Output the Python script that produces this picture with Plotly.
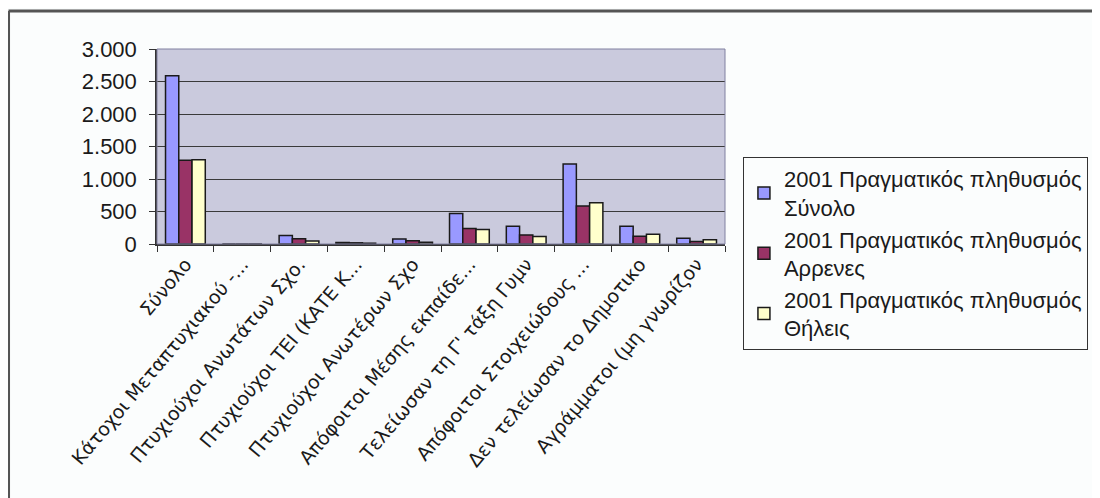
import plotly.graph_objects as go

categories = [
    "Σύνολο",
    "Κάτοχοι Μεταπτυχιακού -...",
    "Πτυχιούχοι Ανωτάτων Σχο.",
    "Πτυχιούχοι ΤΕΙ (ΚΑΤΕ Κ...",
    "Πτυχιούχοι Ανωτέρων Σχο",
    "Απόφοιτοι Μέσης εκπαίδε...",
    "Τελείωσαν τη Γ' τάξη Γυμν",
    "Απόφοιτοι Στοιχειώδους ...",
    "Δεν τελείωσαν το Δημοτικο",
    "Αγράμματοι (μη γνωρίζον",
]
series_names = [
    "2001 Πραγματικός πληθυσμός<br>Σύνολο",
    "2001 Πραγματικός πληθυσμός<br>Αρρενες",
    "2001 Πραγματικός πληθυσμός<br>Θήλεις",
]
total = [2590, 0, 130, 25, 78, 470, 275, 1230, 275, 88]
males = [1290, 0, 80, 18, 50, 240, 140, 585, 120, 40]
females = [1295, 0, 45, 12, 28, 225, 115, 635, 150, 65]
colors = ["#9999FF", "#993366", "#FFFFCC"]
yticks = [0, 500, 1000, 1500, 2000, 2500, 3000]

fig = go.Figure()
for name, vals, col in zip(series_names, [total, males, females], colors):
    fig.add_trace(go.Bar(
        x=categories, y=vals, name=name,
        marker=dict(color=col, line=dict(color="#1a1a1a", width=1.5)),
    ))

OFF = 8  # page body margin
W, H = 1100 - OFF, 498 - OFF
L, R, T, B = 157 - OFF, 727 - OFF, 49 - OFF, 244 - OFF


def px(x):
    return (x - OFF - L) / (R - L)


def py(y):
    return (B - (y - OFF)) / (B - T)


fig.update_layout(
    width=W, height=H,
    margin=dict(l=L, r=W - R, t=T, b=H - B),
    paper_bgcolor="#fbfdfd",
    plot_bgcolor="#cacadd",
    barmode="group", bargap=0.3, bargroupgap=0,
    separators=",.",
    font=dict(family="Liberation Sans, Arial", color="#1a1a1a"),
    showlegend=True,
    legend=dict(
        x=px(745), xanchor="left",
        y=py(157), yanchor="top",
        bgcolor="#fbfdfd", bordercolor="#333333", borderwidth=1,
        font=dict(size=22, family="Liberation Sans, Arial", color="#1a1a1a"),
        tracegroupgap=3,
        itemwidth=30,
    ),
    xaxis=dict(
        tickangle=-50,
        tickfont=dict(family="DejaVu Sans", size=19, color="#1a1a1a"),
        showline=True, linecolor="#333333", linewidth=1.5,
        ticks="outside", tickson="boundaries", ticklen=6, tickcolor="#333333",
        showgrid=False, mirror=False,
    ),
    yaxis=dict(
        range=[0, 3000], tickvals=yticks, tickformat=",",
        tickfont=dict(size=22, family="Liberation Sans, Arial", color="#1a1a1a"),
        showline=True, linecolor="#333333", linewidth=1.5,
        ticks="outside", ticklen=6, tickcolor="#333333",
        ticklabelstandoff=8,
        showgrid=True, gridcolor="#3a3a3a", gridwidth=1,
        zeroline=False,
    ),
    shapes=[
        dict(type="rect", xref="paper", yref="paper", x0=0, x1=1, y0=0, y1=1,
             line=dict(color="#8080a0", width=1)),
        dict(type="line", xref="paper", yref="paper",
             x0=px(8), x1=px(1100), y0=py(11), y1=py(11),
             line=dict(color="#555555", width=3)),
        dict(type="line", xref="paper", yref="paper",
             x0=px(8), x1=px(8), y0=py(11), y1=py(498),
             line=dict(color="#555555", width=3)),
    ],
)

fig.write_html("out.html")
